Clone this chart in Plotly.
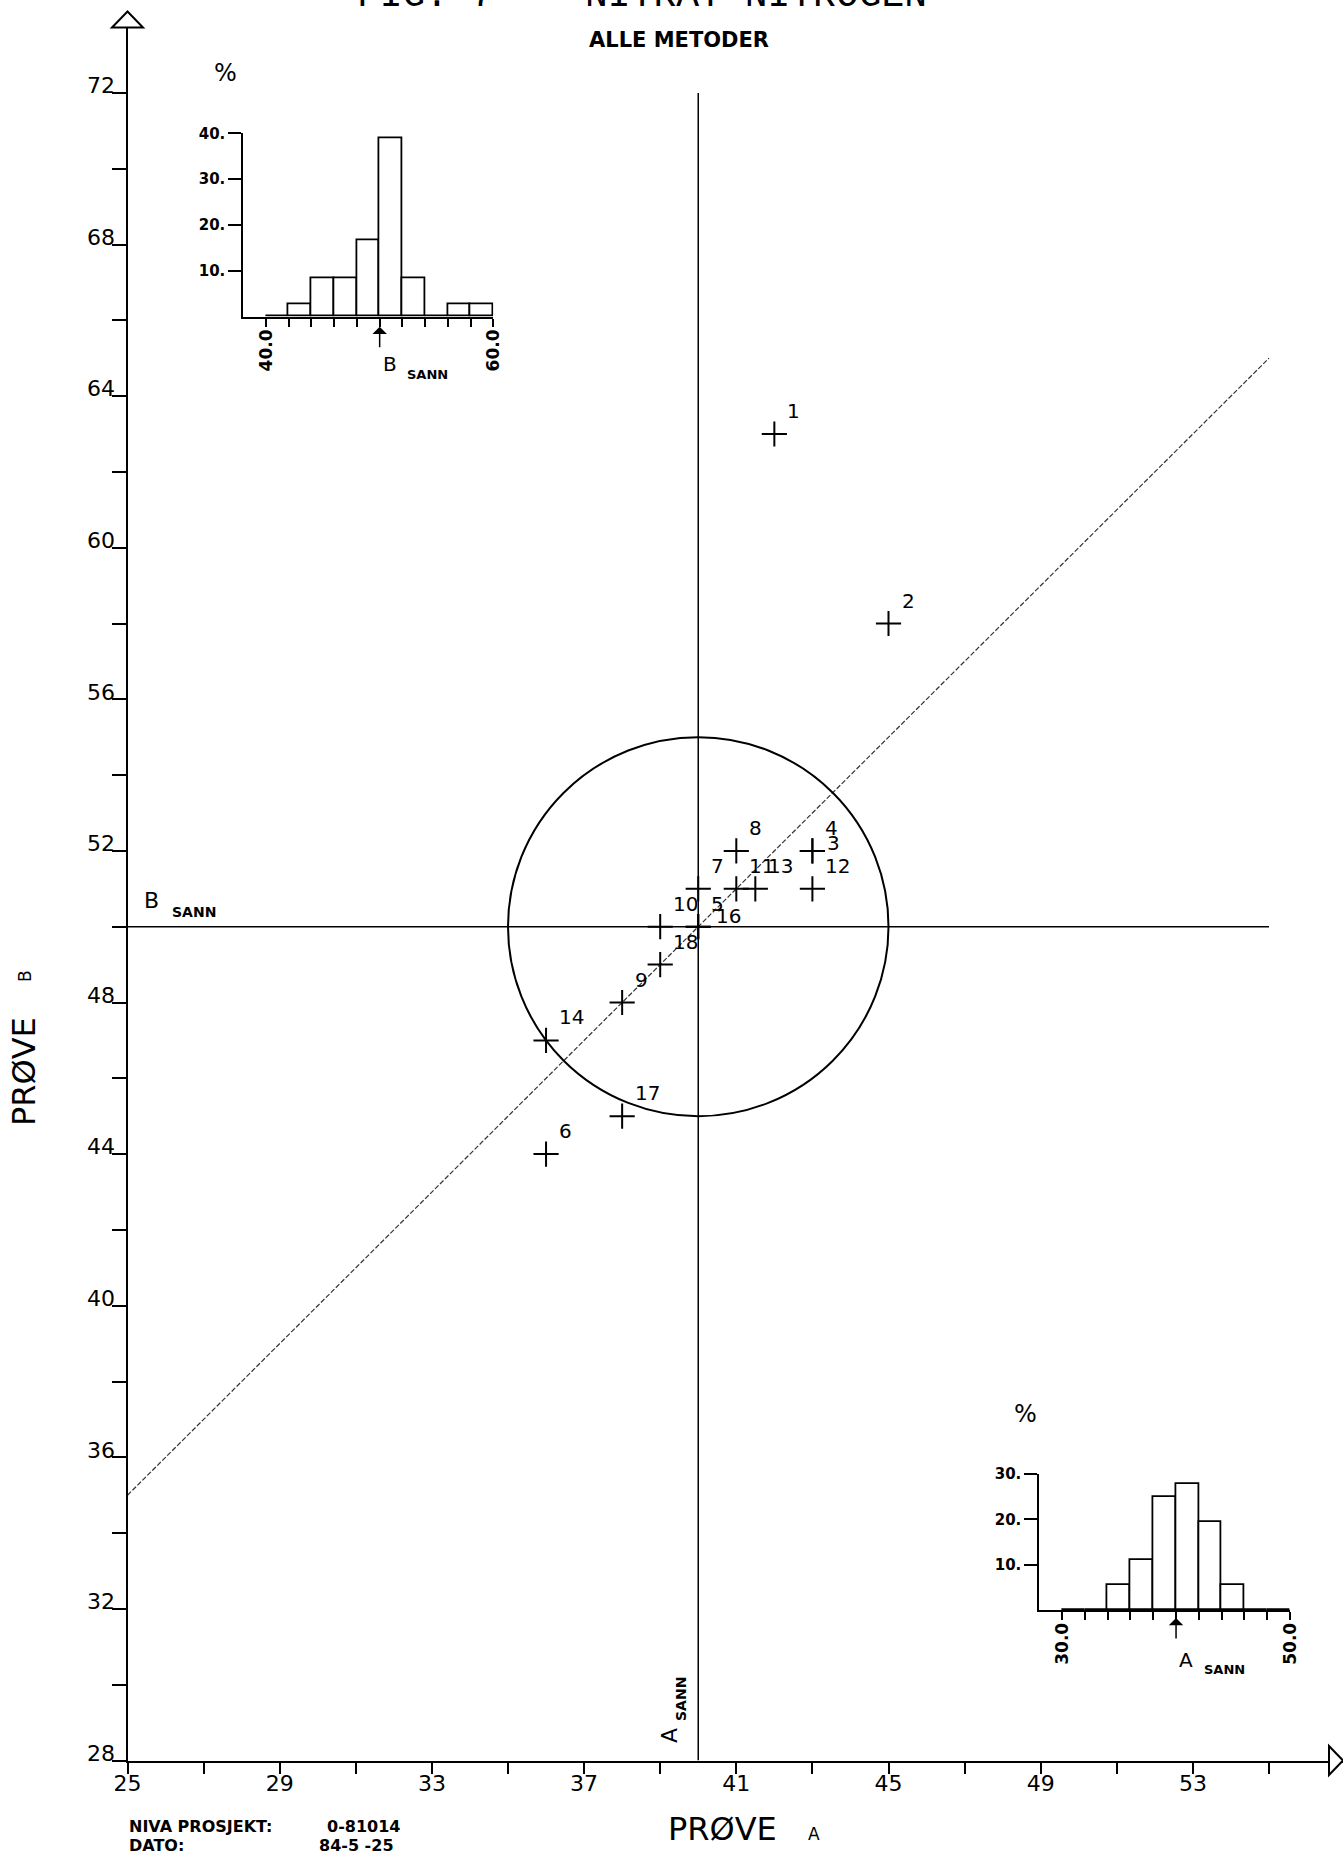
import plotly.graph_objects as go

# ---------------- data ----------------
lab_ids = ["1", "2", "3", "4", "5", "6", "7", "8", "9", "10", "11", "12", "13", "14", "16", "17", "18"]
prove_a = [42, 45, 43, 43, 40, 36, 40, 41, 38, 39, 41, 43, 41.5, 36, 40, 38, 39]
prove_b = [63, 58, 52, 52, 50, 44, 51, 52, 48, 50, 51, 51, 51, 47, 50, 45, 49]

A_SANN = 40
B_SANN = 50
CIRCLE_R = 5
LINE_X = [25, 55]          # extent of reference lines along Prøve A
VLINE_Y = [28, 72]         # extent of A_SANN line along Prøve B

y_major = list(range(28, 73, 4))
y_minor = list(range(30, 71, 4))

hist_a_bins = [30, 32, 34, 36, 38, 40, 42, 44, 46, 48]   # lower bin edges
hist_a_pct = [0, 0, 5.6, 11.1, 25.0, 27.8, 19.4, 5.6, 0, 0]
hist_b_bins = [40, 42, 44, 46, 48, 50, 52, 54, 56, 58]
hist_b_pct = [0, 2.8, 8.3, 8.3, 16.7, 38.9, 8.3, 0, 2.8, 2.8]
BIN_W = 2
hist_a_yticks = [10, 20, 30]
hist_b_yticks = [10, 20, 30, 40]

# ---------------- geometry (pixels) ----------------
W, H = 1343, 1855
MX0, MPX = 127.5, 38.05     # pixel of A=25, px per unit
MY0, MPY = 1760.5, 37.9     # pixel of B=28, px per unit
Y_TOP = 12

def PX(v):
    return (MX0 + (v - 25) * MPX) / W

def PY(v):
    return 1 - (MY0 - (v - 28) * MPY) / H

def px(p):
    return p / W

def py(p):
    return 1 - p / H

x_range = [25, 25 + (W - MX0) / MPX]
y_range = [28, 28 + (MY0 - Y_TOP) / MPY]

BLACK = "black"
FT = "DejaVu Sans"

fig = go.Figure()

# reference lines
diag_y = [x - A_SANN + B_SANN for x in LINE_X]
fig.add_trace(go.Scatter(x=LINE_X, y=diag_y, mode="lines",
                         line=dict(color="#333", width=1.2, dash="5px,2px"),
                         hoverinfo="skip", showlegend=False))
fig.add_trace(go.Scatter(x=LINE_X, y=[B_SANN, B_SANN], mode="lines",
                         line=dict(color=BLACK, width=1.5), hoverinfo="skip", showlegend=False))
fig.add_trace(go.Scatter(x=[A_SANN, A_SANN], y=VLINE_Y, mode="lines",
                         line=dict(color=BLACK, width=1.5), hoverinfo="skip", showlegend=False))

# data points
fig.add_trace(go.Scatter(x=prove_a, y=prove_b, mode="markers",
                         marker=dict(symbol="cross-thin", size=18, line=dict(width=2, color=BLACK)),
                         text=lab_ids, showlegend=False))

# circle
fig.add_shape(type="circle", xref="x", yref="y",
              x0=A_SANN - CIRCLE_R, x1=A_SANN + CIRCLE_R,
              y0=B_SANN - CIRCLE_R, y1=B_SANN + CIRCLE_R,
              line=dict(color=BLACK, width=2))

# histograms
fig.add_trace(go.Bar(x=[b + BIN_W / 2 for b in hist_b_bins], y=hist_b_pct, width=BIN_W,
                     marker=dict(color="white", line=dict(color=BLACK, width=1.8)),
                     xaxis="x2", yaxis="y2", showlegend=False))
fig.add_trace(go.Bar(x=[b + BIN_W / 2 for b in hist_a_bins], y=hist_a_pct, width=BIN_W,
                     marker=dict(color="white", line=dict(color=BLACK, width=1.8)),
                     xaxis="x3", yaxis="y3", showlegend=False))

# point labels
label_shift = {"3": (13, 8), "16": (16, 11)}
for lid, a, b in zip(lab_ids, prove_a, prove_b):
    dx, dy = label_shift.get(lid, (11, 23))
    fig.add_annotation(x=a, y=b, xref="x", yref="y", text=lid, showarrow=False,
                       xanchor="left", yanchor="middle", xshift=dx, yshift=dy,
                       font=dict(family=FT, size=20, color=BLACK))

def txt(x, y, s, size, bold=False, angle=0, xanchor="center", family=FT):
    fig.add_annotation(x=px(x), y=py(y), xref="paper", yref="paper", text=(f"<b>{s}</b>" if bold else s),
                       showarrow=False, xanchor=xanchor, yanchor="middle", textangle=angle,
                       font=dict(family=family, size=size, color=BLACK))

# titles & labels
txt(642, -5, "FIG. 7    NITRAT NITROGEN", 38, family="Liberation Mono")
txt(679, 40, "ALLE METODER", 21, bold=True)
txt(722, 1829, "PRØVE", 32)
txt(814, 1834, "A", 17)
txt(24, 1072, "PRØVE", 32, angle=-90)
txt(25, 976, "B", 17, angle=-90)
txt(151, 900, "B", 22)
txt(170, 912, "SANN", 14, bold=True, xanchor="left")
txt(669, 1736, "A", 22, angle=-90)
txt(681, 1699, "SANN", 14, bold=True, angle=-90)
txt(127, 1826, "NIVA PROSJEKT:", 16, bold=True, xanchor="left")
txt(127, 1845, "DATO:", 16, bold=True, xanchor="left")
txt(325, 1826, "0-81014", 16, bold=True, xanchor="left")
txt(317, 1845, "84-5 -25", 16, bold=True, xanchor="left")
# histogram labels
txt(225, 73, "%", 24)
txt(390, 364, "B", 20)
txt(405, 374, "SANN", 13, bold=True, xanchor="left")
txt(1025, 1414, "%", 24)
txt(1186, 1660, "A", 20)
txt(1202, 1669, "SANN", 13, bold=True, xanchor="left")

# arrows marking true values under the histograms
fig.add_annotation(x=B_SANN, y=0, xref="x2", yref="y2", text="", showarrow=True,
                   ax=0, ay=22, yshift=-10, arrowhead=1, arrowsize=1.6, arrowwidth=1.5,
                   arrowcolor=BLACK)
fig.add_annotation(x=A_SANN, y=0, xref="x3", yref="y3", text="", showarrow=True,
                   ax=0, ay=22, yshift=-8, arrowhead=1, arrowsize=1.6, arrowwidth=1.5,
                   arrowcolor=BLACK)

# axis arrowheads (open triangles)
yx = PX(25)
fig.add_shape(type="path", xref="paper", yref="paper",
              path=f"M {yx - px(15.5)} {py(27.5)} L {yx} {py(11.5)} L {yx + px(15.5)} {py(27.5)} Z",
              line=dict(color=BLACK, width=2), fillcolor="white")
xy = PY(28)
fig.add_shape(type="path", xref="paper", yref="paper",
              path=f"M {px(1329)} {xy + 14.5 / H} L {px(1343)} {xy} L {px(1329)} {xy - 14.5 / H} Z",
              line=dict(color=BLACK, width=2), fillcolor="white")

tickfont = dict(family=FT, size=22, color=BLACK)
common = dict(showline=True, linecolor=BLACK, linewidth=2, showgrid=False, zeroline=False,
              ticks="outside", tickwidth=2, tickcolor=BLACK, automargin=False)
fig.update_layout(
    width=W, height=H, autosize=False,
    margin=dict(l=0, r=0, t=0, b=0, pad=0),
    paper_bgcolor="white", plot_bgcolor="rgba(0,0,0,0)",
    showlegend=False, bargap=0,
    xaxis=dict(domain=[MX0 / W, 1], range=x_range, ticklen=11,
               tick0=25, dtick=4, tickfont=tickfont, anchor="y", ticklabelstandoff=-9,
               minor=dict(tick0=25, dtick=2, ticks="outside", ticklen=11, tickwidth=2,
                          tickcolor=BLACK, showgrid=False), **common),
    yaxis=dict(domain=[1 - MY0 / H, 1 - Y_TOP / H], range=y_range, ticklen=14,
               tickvals=y_major, tickfont=tickfont, anchor="x",
               ticklabelposition="outside top", ticklabelshift=9, ticklabelstandoff=6,
               minor=dict(tickvals=y_minor, ticks="outside", ticklen=14, tickwidth=2,
                          tickcolor=BLACK, showgrid=False), **common),
    xaxis2=dict(domain=[px(243.3), px(493.3)], range=[38, 60], anchor="y2", ticklen=8,
                tickvals=hist_b_bins + [hist_b_bins[-1] + BIN_W],
                ticktext=[f"{hist_b_bins[0]:.1f}"] + [""] * (len(hist_b_bins) - 1)
                         + [f"{hist_b_bins[-1] + BIN_W:.1f}"],
                tickangle=-90, ticklabelstandoff=-4,
                tickfont=dict(family=FT, size=17, color=BLACK, weight="bold"),
                **common),
    yaxis2=dict(domain=[py(316.7), py(133.3)], range=[0, 40], anchor="x2",
                ticklen=13, tickvals=hist_b_yticks,
                ticktext=[f"{v}." for v in hist_b_yticks],
                tickfont=dict(family=FT, size=15, color=BLACK, weight="bold"), **common),
    xaxis3=dict(domain=[px(1039.3), px(1290)], range=[28, 50], anchor="y3", ticklen=8,
                tickvals=hist_a_bins + [hist_a_bins[-1] + BIN_W],
                ticktext=[f"{hist_a_bins[0]:.1f}"] + [""] * (len(hist_a_bins) - 1)
                         + [f"{hist_a_bins[-1] + BIN_W:.1f}"],
                tickangle=-90, ticklabelstandoff=-4,
                tickfont=dict(family=FT, size=17, color=BLACK, weight="bold"),
                **common),
    yaxis3=dict(domain=[py(1610), py(1474)], range=[0, 30], anchor="x3",
                ticklen=13, tickvals=hist_a_yticks,
                ticktext=[f"{v}." for v in hist_a_yticks],
                tickfont=dict(family=FT, size=15, color=BLACK, weight="bold"), **common),
)

fig.write_html("out.html", config={"displayModeBar": False},
               post_script="document.body.style.margin='0';document.body.style.overflow='hidden';")
